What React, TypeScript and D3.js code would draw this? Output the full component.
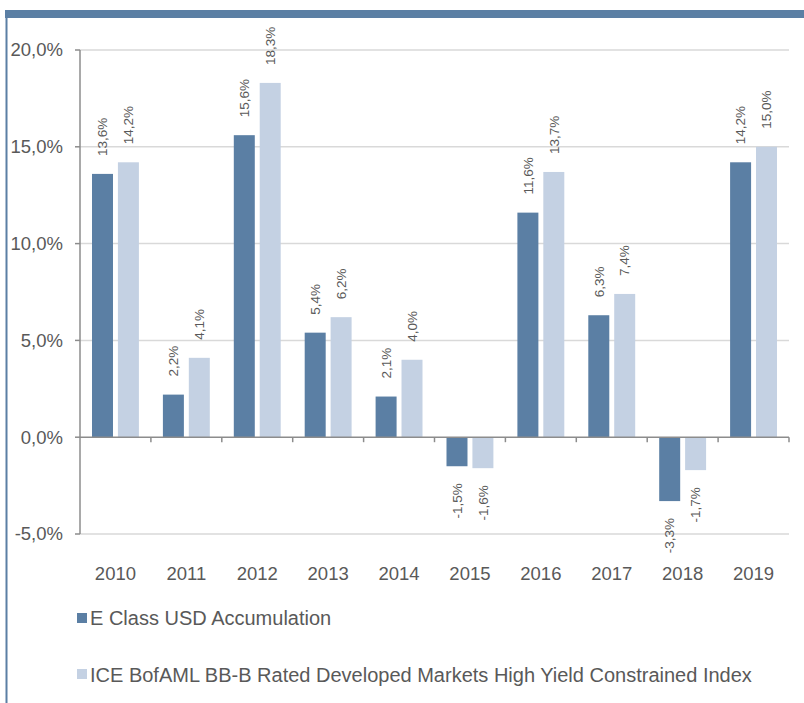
import React from "react";
import * as d3 from "d3";

const categories = ["2010", "2011", "2012", "2013", "2014", "2015", "2016", "2017", "2018", "2019"];
const seriesNames = ["E Class USD Accumulation", "ICE BofAML BB-B Rated Developed Markets High Yield Constrained Index"];
const fundValues = [13.6, 2.2, 15.6, 5.4, 2.1, -1.5, 11.6, 6.3, -3.3, 14.2];
const indexValues = [14.2, 4.1, 18.3, 6.2, 4.0, -1.6, 13.7, 7.4, -1.7, 15.0];
const yTicks = [-5, 0, 5, 10, 15, 20];
const colors = ["#5b7fa4", "#c4d1e3"];

const W = 804;
const H = 703;
const FONT = "Arial, 'Liberation Sans', sans-serif";
const TEXT = "#595959";

const fmt = (v: number) => v.toFixed(1).replace(".", ",") + "%";

export default function App() {
  const x0 = d3.scaleBand<string>().domain(categories).range([80, 789]).padding(0);
  const bw = x0.bandwidth();
  const x1 = d3.scaleBand<number>().domain([0, 1]).range([12, bw - 12]).paddingInner(0.19);
  const y = d3.scaleLinear().domain([-5, 20]).range([534, 50]);
  const series = [fundValues, indexValues];

  return (
    <svg width={W} height={H} style={{ position: "absolute", left: 0, top: 0, background: "#fff" }} fontFamily={FONT}>
      <rect x={5} y={10} width={W - 5} height={8} fill="#5b7fa4" />
      <line x1={6.5} x2={6.5} y1={10} y2={H} stroke="#5b7fa4" strokeWidth={2} />
      {yTicks.filter((t) => t !== 0).map((t) => (
        <line key={"g" + t} x1={80} x2={789} y1={y(t)} y2={y(t)} stroke="#d9d9d9" strokeWidth={1.5} />
      ))}
      {series.map((vals, si) =>
        vals.map((v, i) => {
          const c = categories[i];
          const bx = (x0(c) as number) + (x1(si) as number);
          const top = Math.min(y(v), y(0));
          const h = Math.abs(y(v) - y(0));
          return <rect key={`b${si}-${i}`} x={bx} y={top} width={x1.bandwidth()} height={h} fill={colors[si]} />;
        })
      )}
      <line x1={80} x2={80} y1={50} y2={534} stroke="#8c8c8c" strokeWidth={1.5} />
      {yTicks.map((t) => (
        <g key={"t" + t}>
          <line x1={75} x2={80} y1={y(t)} y2={y(t)} stroke="#8c8c8c" strokeWidth={1.5} />
          <text x={63} y={y(t)} dy="0.35em" textAnchor="end" fontSize={18.5} fill={TEXT}>
            {fmt(t)}
          </text>
        </g>
      ))}
      <line x1={80} x2={789} y1={y(0)} y2={y(0)} stroke="#8c8c8c" strokeWidth={1.5} />
      {categories.map((c, i) => (
        <line key={"xt" + i} x1={(x0(c) as number) + bw} x2={(x0(c) as number) + bw} y1={y(0)} y2={y(0) + 5} stroke="#8c8c8c" strokeWidth={1.5} />
      ))}
      {categories.map((c) => (
        <text key={"xl" + c} x={(x0(c) as number) + bw / 2} y={580} textAnchor="middle" fontSize={18.5} fill={TEXT}>
          {c}
        </text>
      ))}
      {series.map((vals, si) =>
        vals.map((v, i) => {
          const c = categories[i];
          const cx = (x0(c) as number) + (x1(si) as number) + x1.bandwidth() / 2;
          const pos = v >= 0;
          const ly = pos ? y(v) - 18 : y(v) + 17;
          return (
            <text
              key={`l${si}-${i}`}
              transform={`translate(${cx},${ly}) rotate(-90)`}
              textAnchor={pos ? "start" : "end"}
              dy="0.35em"
              fontSize={13.5}
              fill={TEXT}
            >
              {fmt(v)}
            </text>
          );
        })
      )}
      {seriesNames.map((n, si) => (
        <g key={"lg" + si}>
          <rect x={77} y={613 + si * 56} width={10} height={10} fill={colors[si]} />
          <text x={90} y={625 + si * 57} fontSize={20} fill={TEXT}>
            {n}
          </text>
        </g>
      ))}
    </svg>
  );
}
